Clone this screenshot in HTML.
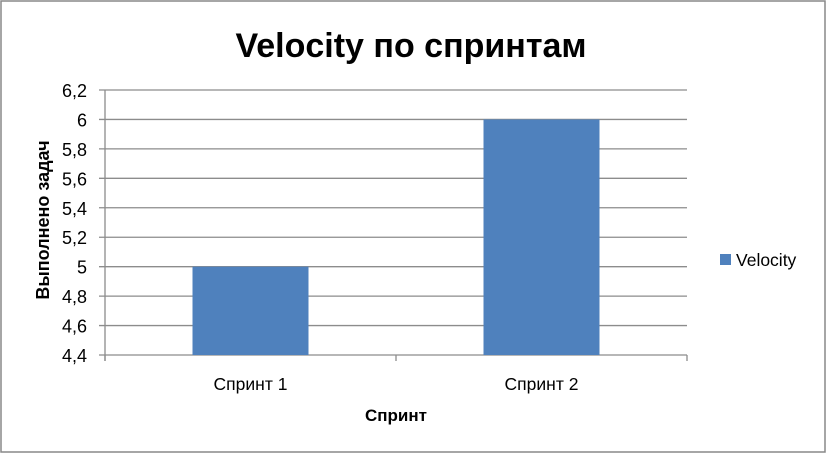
<!DOCTYPE html>
<html><head><meta charset="utf-8"><style>
body{margin:0;background:#fff}
svg{display:block;font-family:"Liberation Sans","DejaVu Sans",sans-serif}
</style></head><body>
<svg width="827" height="454">
<rect x="1" y="1" width="824" height="451" fill="#fff" stroke="#888" stroke-width="1.5"/>
<text x="411" y="57" text-anchor="middle" font-size="34" font-weight="bold">Velocity по спринтам</text>
<g id="grid"></g><g id="bars"></g><g id="axes"></g>
<text transform="translate(49,220) rotate(-90)" text-anchor="middle" font-size="18" font-weight="bold">Выполнено задач</text>
<text x="396" y="421" text-anchor="middle" font-size="17" font-weight="bold">Спринт</text>
<rect x="720" y="254" width="11" height="11" fill="#4f81bd"/>
<text x="736" y="266" font-size="17.5">Velocity</text>
</svg>
<script>
const categories=["Спринт 1","Спринт 2"];
const values=[5,6];
const ticks=[4.4,4.6,4.8,5,5.2,5.4,5.6,5.8,6,6.2];
const tickLabels=["4,4","4,6","4,8","5","5,2","5,4","5,6","5,8","6","6,2"];
const NS="http://www.w3.org/2000/svg";
const x0=105,x1=687,yTop=90,yBot=355,vMin=4.4,vMax=6.2;
const y=v=>yBot-(v-vMin)/(vMax-vMin)*(yBot-yTop);
const band=(x1-x0)/categories.length;
const xc=i=>x0+band*(i+0.5);
function mk(t,a,p){const e=document.createElementNS(NS,t);for(const k in a)e.setAttribute(k,a[k]);p.appendChild(e);return e;}
const g=document.getElementById('grid'),b=document.getElementById('bars'),ax=document.getElementById('axes');
ticks.forEach((v,i)=>{
 const l=mk('line',{x1:x0-6,x2:x1,y1:y(v),y2:y(v),stroke:'#8c8c8c','stroke-width':1.3},g);
 
 
 const t=mk('text',{x:x0-18,y:y(v)+7,'text-anchor':'end','font-size':18},ax);
 t.textContent=tickLabels[i];
 
 
});
values.forEach((v,i)=>{
 const r=mk('rect',{x:xc(i)-58,width:116,y:y(v),height:yBot-y(v),fill:'#4f81bd'},b);
 
 
 const t=mk('text',{x:xc(i),y:390,'text-anchor':'middle','font-size':17.5},ax);
 t.textContent=categories[i];
 
 
});
const ya=mk('line',{x1:x0,x2:x0,y1:yTop,y2:yBot+6,stroke:'#8c8c8c','stroke-width':1.3},ax);


for(let i=0;i<=categories.length;i++){
 const tk=mk('line',{x1:x0+band*i,x2:x0+band*i,y1:yBot,y2:yBot+6,stroke:'#8c8c8c','stroke-width':1.3},ax);
 
 
}
</script>
</body></html>
